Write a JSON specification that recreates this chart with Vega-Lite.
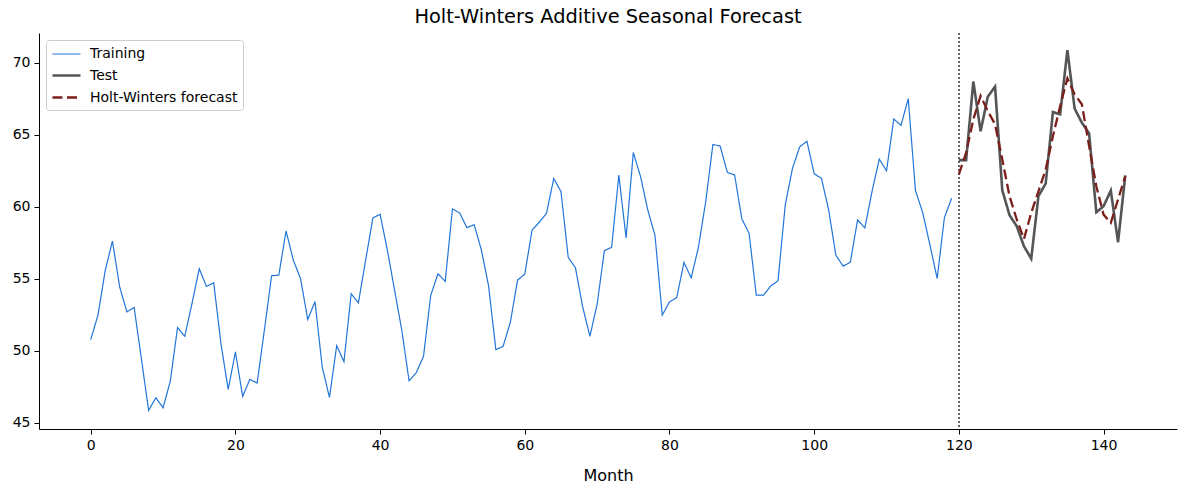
{
  "$schema": "https://vega.github.io/schema/vega-lite/v6.json",
  "width": 1138,
  "height": 396,
  "autosize": {"type": "none"},
  "padding": {"left": 39, "top": 33, "right": 10, "bottom": 58},
  "background": "white",
  "title": {
    "text": "Holt-Winters Additive Seasonal Forecast",
    "font": "DejaVu Sans",
    "fontSize": 19.4,
    "fontWeight": "normal",
    "color": "black",
    "anchor": "middle",
    "baseline": "alphabetic",
    "offset": 7,
    "dy": 17
  },
  "config": {
    "view": {"stroke": null},
    "axis": {
      "labelFont": "DejaVu Sans",
      "labelFontSize": 14,
      "labelColor": "black",
      "titleFont": "DejaVu Sans",
      "titleFontSize": 16,
      "titleFontWeight": "normal",
      "titleColor": "black",
      "domainColor": "black",
      "domainWidth": 1,
      "tickColor": "black",
      "tickSize": 5,
      "labelPadding": 4,
      "grid": false
    },
    "legend": {
      "labelFont": "DejaVu Sans",
      "labelFontSize": 14,
      "labelColor": "black",
      "strokeColor": "#cccccc",
      "fillColor": "white",
      "cornerRadius": 3,
      "padding": 5,
      "symbolType": "M-1,0H2.5",
      "symbolSize": 256,
      "labelOffset": 20,
      "rowPadding": 5
    }
  },
  "data": {
    "values": [
      {"month": 0, "value": 50.76, "series": "Training"},
      {"month": 1, "value": 52.45, "series": "Training"},
      {"month": 2, "value": 55.55, "series": "Training"},
      {"month": 3, "value": 57.6, "series": "Training"},
      {"month": 4, "value": 54.42, "series": "Training"},
      {"month": 5, "value": 52.68, "series": "Training"},
      {"month": 6, "value": 52.99, "series": "Training"},
      {"month": 7, "value": 49.44, "series": "Training"},
      {"month": 8, "value": 45.84, "series": "Training"},
      {"month": 9, "value": 46.72, "series": "Training"},
      {"month": 10, "value": 46.02, "series": "Training"},
      {"month": 11, "value": 47.88, "series": "Training"},
      {"month": 12, "value": 51.59, "series": "Training"},
      {"month": 13, "value": 50.99, "series": "Training"},
      {"month": 14, "value": 53.27, "series": "Training"},
      {"month": 15, "value": 55.68, "series": "Training"},
      {"month": 16, "value": 54.45, "series": "Training"},
      {"month": 17, "value": 54.7, "series": "Training"},
      {"month": 18, "value": 50.48, "series": "Training"},
      {"month": 19, "value": 47.3, "series": "Training"},
      {"month": 20, "value": 49.9, "series": "Training"},
      {"month": 21, "value": 46.81, "series": "Training"},
      {"month": 22, "value": 48.0, "series": "Training"},
      {"month": 23, "value": 47.74, "series": "Training"},
      {"month": 24, "value": 51.41, "series": "Training"},
      {"month": 25, "value": 55.19, "series": "Training"},
      {"month": 26, "value": 55.24, "series": "Training"},
      {"month": 27, "value": 58.3, "series": "Training"},
      {"month": 28, "value": 56.28, "series": "Training"},
      {"month": 29, "value": 55.0, "series": "Training"},
      {"month": 30, "value": 52.15, "series": "Training"},
      {"month": 31, "value": 53.4, "series": "Training"},
      {"month": 32, "value": 48.85, "series": "Training"},
      {"month": 33, "value": 46.74, "series": "Training"},
      {"month": 34, "value": 50.34, "series": "Training"},
      {"month": 35, "value": 49.22, "series": "Training"},
      {"month": 36, "value": 53.94, "series": "Training"},
      {"month": 37, "value": 53.31, "series": "Training"},
      {"month": 38, "value": 56.28, "series": "Training"},
      {"month": 39, "value": 59.21, "series": "Training"},
      {"month": 40, "value": 59.46, "series": "Training"},
      {"month": 41, "value": 56.98, "series": "Training"},
      {"month": 42, "value": 54.19, "series": "Training"},
      {"month": 43, "value": 51.41, "series": "Training"},
      {"month": 44, "value": 47.9, "series": "Training"},
      {"month": 45, "value": 48.46, "series": "Training"},
      {"month": 46, "value": 49.6, "series": "Training"},
      {"month": 47, "value": 53.84, "series": "Training"},
      {"month": 48, "value": 55.33, "series": "Training"},
      {"month": 49, "value": 54.8, "series": "Training"},
      {"month": 50, "value": 59.83, "series": "Training"},
      {"month": 51, "value": 59.55, "series": "Training"},
      {"month": 52, "value": 58.53, "series": "Training"},
      {"month": 53, "value": 58.74, "series": "Training"},
      {"month": 54, "value": 56.98, "series": "Training"},
      {"month": 55, "value": 54.47, "series": "Training"},
      {"month": 56, "value": 50.06, "series": "Training"},
      {"month": 57, "value": 50.29, "series": "Training"},
      {"month": 58, "value": 51.96, "series": "Training"},
      {"month": 59, "value": 54.89, "series": "Training"},
      {"month": 60, "value": 55.31, "series": "Training"},
      {"month": 61, "value": 58.35, "series": "Training"},
      {"month": 62, "value": 58.91, "series": "Training"},
      {"month": 63, "value": 59.53, "series": "Training"},
      {"month": 64, "value": 61.94, "series": "Training"},
      {"month": 65, "value": 61.04, "series": "Training"},
      {"month": 66, "value": 56.47, "series": "Training"},
      {"month": 67, "value": 55.75, "series": "Training"},
      {"month": 68, "value": 53.03, "series": "Training"},
      {"month": 69, "value": 50.99, "series": "Training"},
      {"month": 70, "value": 53.22, "series": "Training"},
      {"month": 71, "value": 56.93, "series": "Training"},
      {"month": 72, "value": 57.17, "series": "Training"},
      {"month": 73, "value": 62.18, "series": "Training"},
      {"month": 74, "value": 57.81, "series": "Training"},
      {"month": 75, "value": 63.75, "series": "Training"},
      {"month": 76, "value": 62.08, "series": "Training"},
      {"month": 77, "value": 59.76, "series": "Training"},
      {"month": 78, "value": 57.98, "series": "Training"},
      {"month": 79, "value": 52.45, "series": "Training"},
      {"month": 80, "value": 53.38, "series": "Training"},
      {"month": 81, "value": 53.68, "series": "Training"},
      {"month": 82, "value": 56.12, "series": "Training"},
      {"month": 83, "value": 55.05, "series": "Training"},
      {"month": 84, "value": 57.17, "series": "Training"},
      {"month": 85, "value": 60.32, "series": "Training"},
      {"month": 86, "value": 64.31, "series": "Training"},
      {"month": 87, "value": 64.2, "series": "Training"},
      {"month": 88, "value": 62.36, "series": "Training"},
      {"month": 89, "value": 62.2, "series": "Training"},
      {"month": 90, "value": 59.14, "series": "Training"},
      {"month": 91, "value": 58.14, "series": "Training"},
      {"month": 92, "value": 53.84, "series": "Training"},
      {"month": 93, "value": 53.84, "series": "Training"},
      {"month": 94, "value": 54.49, "series": "Training"},
      {"month": 95, "value": 54.84, "series": "Training"},
      {"month": 96, "value": 60.11, "series": "Training"},
      {"month": 97, "value": 62.65, "series": "Training"},
      {"month": 98, "value": 64.15, "series": "Training"},
      {"month": 99, "value": 64.53, "series": "Training"},
      {"month": 100, "value": 62.27, "series": "Training"},
      {"month": 101, "value": 61.97, "series": "Training"},
      {"month": 102, "value": 59.76, "series": "Training"},
      {"month": 103, "value": 56.61, "series": "Training"},
      {"month": 104, "value": 55.86, "series": "Training"},
      {"month": 105, "value": 56.14, "series": "Training"},
      {"month": 106, "value": 59.07, "series": "Training"},
      {"month": 107, "value": 58.51, "series": "Training"},
      {"month": 108, "value": 61.06, "series": "Training"},
      {"month": 109, "value": 63.29, "series": "Training"},
      {"month": 110, "value": 62.48, "series": "Training"},
      {"month": 111, "value": 66.08, "series": "Training"},
      {"month": 112, "value": 65.64, "series": "Training"},
      {"month": 113, "value": 67.49, "series": "Training"},
      {"month": 114, "value": 61.11, "series": "Training"},
      {"month": 115, "value": 59.58, "series": "Training"},
      {"month": 116, "value": 57.33, "series": "Training"},
      {"month": 117, "value": 55.0, "series": "Training"},
      {"month": 118, "value": 59.23, "series": "Training"},
      {"month": 119, "value": 60.57, "series": "Training"},
      {"month": 120, "value": 63.22, "series": "Test"},
      {"month": 121, "value": 63.22, "series": "Test"},
      {"month": 122, "value": 68.68, "series": "Test"},
      {"month": 123, "value": 65.22, "series": "Test"},
      {"month": 124, "value": 67.63, "series": "Test"},
      {"month": 125, "value": 68.33, "series": "Test"},
      {"month": 126, "value": 61.13, "series": "Test"},
      {"month": 127, "value": 59.4, "series": "Test"},
      {"month": 128, "value": 58.63, "series": "Test"},
      {"month": 129, "value": 57.24, "series": "Test"},
      {"month": 130, "value": 56.38, "series": "Test"},
      {"month": 131, "value": 60.72, "series": "Test"},
      {"month": 132, "value": 61.6, "series": "Test"},
      {"month": 133, "value": 66.56, "series": "Test"},
      {"month": 134, "value": 66.4, "series": "Test"},
      {"month": 135, "value": 70.86, "series": "Test"},
      {"month": 136, "value": 66.8, "series": "Test"},
      {"month": 137, "value": 65.82, "series": "Test"},
      {"month": 138, "value": 65.08, "series": "Test"},
      {"month": 139, "value": 59.6, "series": "Test"},
      {"month": 140, "value": 60.02, "series": "Test"},
      {"month": 141, "value": 61.11, "series": "Test"},
      {"month": 142, "value": 57.52, "series": "Test"},
      {"month": 143, "value": 62.16, "series": "Test"},
      {"month": 120, "value": 62.23, "series": "Holt-Winters forecast"},
      {"month": 121, "value": 63.74, "series": "Holt-Winters forecast"},
      {"month": 122, "value": 66.05, "series": "Holt-Winters forecast"},
      {"month": 123, "value": 67.68, "series": "Holt-Winters forecast"},
      {"month": 124, "value": 66.63, "series": "Holt-Winters forecast"},
      {"month": 125, "value": 65.71, "series": "Holt-Winters forecast"},
      {"month": 126, "value": 63.27, "series": "Holt-Winters forecast"},
      {"month": 127, "value": 60.72, "series": "Holt-Winters forecast"},
      {"month": 128, "value": 59.1, "series": "Holt-Winters forecast"},
      {"month": 129, "value": 57.75, "series": "Holt-Winters forecast"},
      {"month": 130, "value": 59.56, "series": "Holt-Winters forecast"},
      {"month": 131, "value": 61.06, "series": "Holt-Winters forecast"},
      {"month": 132, "value": 62.57, "series": "Holt-Winters forecast"},
      {"month": 133, "value": 64.89, "series": "Holt-Winters forecast"},
      {"month": 134, "value": 66.98, "series": "Holt-Winters forecast"},
      {"month": 135, "value": 68.89, "series": "Holt-Winters forecast"},
      {"month": 136, "value": 67.79, "series": "Holt-Winters forecast"},
      {"month": 137, "value": 67.1, "series": "Holt-Winters forecast"},
      {"month": 138, "value": 64.2, "series": "Holt-Winters forecast"},
      {"month": 139, "value": 61.41, "series": "Holt-Winters forecast"},
      {"month": 140, "value": 59.44, "series": "Holt-Winters forecast"},
      {"month": 141, "value": 58.87, "series": "Holt-Winters forecast"},
      {"month": 142, "value": 60.49, "series": "Holt-Winters forecast"},
      {"month": 143, "value": 62.11, "series": "Holt-Winters forecast"}
    ]
  },
  "encoding": {
    "x": {
      "field": "month",
      "type": "quantitative",
      "title": "Month",
      "scale": {"domain": [-7.15, 150.15], "nice": false, "zero": false},
      "axis": {"values": [0, 20, 40, 60, 80, 100, 120, 140], "titlePadding": 15}
    },
    "y": {
      "field": "value",
      "type": "quantitative",
      "title": null,
      "scale": {"domain": [44.55, 72.05], "nice": false, "zero": false},
      "axis": {"values": [45, 50, 55, 60, 65, 70]}
    },
    "color": {
      "field": "series",
      "type": "nominal",
      "title": null,
      "scale": {"domain": ["Training", "Test", "Holt-Winters forecast"], "range": ["#2275d9", "#555555", "#7b1f1c"]},
      "legend": {"orient": "top-left", "offset": 7}
    },
    "strokeDash": {
      "field": "series",
      "type": "nominal",
      "title": null,
      "scale": {"domain": ["Training", "Test", "Holt-Winters forecast"], "range": [[1, 0], [1, 0], [10, 4.5]]},
      "legend": {"orient": "top-left", "offset": 7}
    },
    "strokeWidth": {
      "field": "series",
      "type": "nominal",
      "title": null,
      "scale": {"type": "ordinal", "domain": ["Training", "Test", "Holt-Winters forecast"], "range": [1.2, 2.6, 2.3]},
      "legend": {"orient": "top-left", "offset": 7}
    }
  },
  "layer": [
    {
      "mark": {"type": "rule", "color": "#666666", "strokeWidth": 1, "strokeDash": [1.5, 2.5]},
      "encoding": {
        "x": {"datum": 120, "type": "quantitative"},
        "y": null,
        "color": {"value": "#666666"},
        "strokeDash": {"value": [1.5, 2.5]},
        "strokeWidth": {"value": 1}
      }
    },
    {
      "transform": [{"filter": "datum.series != 'Holt-Winters forecast'"}],
      "mark": {"type": "line"}
    },
    {
      "transform": [{"filter": "datum.series == 'Holt-Winters forecast'"}],
      "mark": {"type": "line"}
    }
  ]
}
